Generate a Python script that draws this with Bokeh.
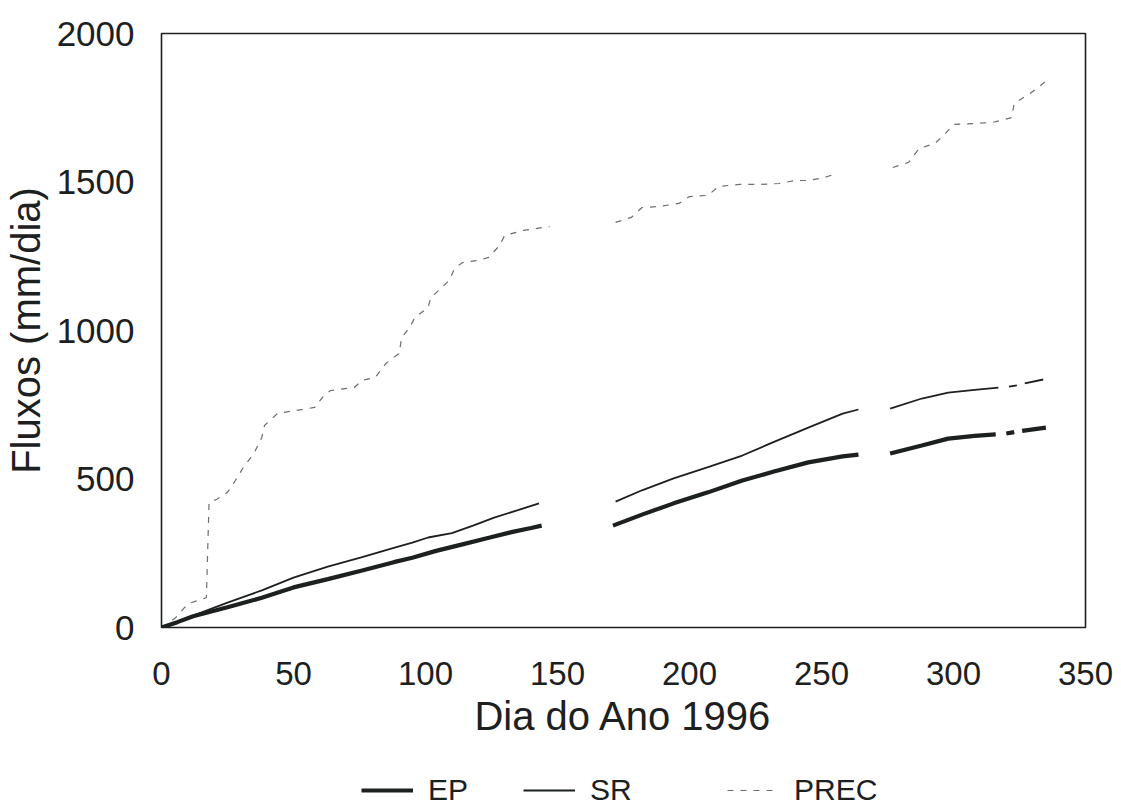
import numpy as np
from bokeh.plotting import figure
from bokeh.layouts import column
from bokeh.models import Legend, LegendItem, FixedTicker
from bokeh.embed import file_html
from bokeh.resources import INLINE

nan = float("nan")

# EP (cumulative evapotranspiration), gaps = missing data
ep_day = [0, 6, 12, 25, 38, 50, 63, 76, 88, 95, 104, 114, 124, 133, 140, 144, nan,
          171, 182, 194, 207, 220, 232, 245, 258, 264, nan,
          276, 288, 298, 308, 316, nan, 320, 323, nan, 326, 335]
ep_val = [0, 18, 38, 68, 100, 135, 163, 192, 220, 235, 258, 280, 302, 322, 335, 343, nan,
          343, 380, 418, 455, 495, 525, 556, 576, 582, nan,
          586, 613, 636, 645, 650, nan, 653, 658, nan, 662, 673]

# SR
sr_day = [0, 6, 12, 25, 38, 50, 63, 76, 88, 95, 101, 110, 118, 126, 135, 143, nan,
          172, 182, 194, 207, 220, 232, 245, 258, 264, nan,
          276, 288, 298, 308, 317, nan, 321, 324, nan, 327, 334]
sr_val = [0, 20, 40, 84, 125, 168, 205, 237, 268, 286, 303, 318, 343, 370, 395, 418, nan,
          424, 462, 502, 540, 579, 625, 673, 720, 734, nan,
          737, 771, 791, 800, 808, nan, 811, 815, nan, 822, 835]

# PREC (cumulative precipitation)
prec_day = [0, 5, 10, 17, 18, 21, 25, 28, 31, 35, 38, 39, 44, 58, 61, 64, 73, 76,
            81, 85, 90, 91, 94, 96, 101, 102, 105, 109, 111, 114, 120, 124, 128, 130,
            137, 147, nan,
            172, 178, 182, 189, 196, 200, 207, 211, 219, 227, 234, 240, 245, 251, 256, nan,
            277, 283, 287, 293, 297, 300, 308, 315, 322, 323, 329, 333, 335]
prec_val = [0, 30, 80, 100, 420, 432, 455, 495, 539, 586, 640, 680, 721, 741, 775, 798, 808, 832,
            842, 889, 923, 977, 1010, 1044, 1078, 1111, 1135, 1169, 1209, 1229, 1236, 1246, 1286, 1320,
            1337, 1350, nan,
            1364, 1381, 1414, 1418, 1428, 1451, 1455, 1485, 1492, 1492, 1495, 1505, 1505, 1515, 1529, nan,
            1549, 1566, 1613, 1630, 1664, 1694, 1697, 1701, 1717, 1765, 1798, 1825, 1840]

x_ticks = [0, 50, 100, 150, 200, 250, 300, 350]
y_ticks = [0, 500, 1000, 1500, 2000]
series_names = ["EP", "SR", "PREC"]

FONT = "Liberation Sans"
INK = "#1c201e"
STYLES = {
    "EP": dict(line_color=INK, line_width=4.2),
    "SR": dict(line_color=INK, line_width=1.8),
    "PREC": dict(line_color="#6a6f6c", line_width=1.2, line_dash="6 7"),
}
SERIES = {"EP": (ep_day, ep_val), "SR": (sr_day, sr_val), "PREC": (prec_day, prec_val)}

p = figure(width=1121, height=745, x_range=(0, 350), y_range=(0, 2000),
           output_backend="svg", toolbar_location=None,
           min_border_left=160, min_border_right=36, min_border_top=33, min_border_bottom=118)
p.background_fill_color = "white"
p.border_fill_color = "white"
p.outline_line_color = INK
p.outline_line_width = 1.6
p.grid.visible = False

for ax in (p.xaxis, p.yaxis):
    ax.axis_line_color = None
    ax.major_tick_line_color = None
    ax.minor_tick_line_color = None
    ax.major_label_text_font = FONT
    ax.major_label_text_color = INK
    ax.axis_label_text_font = FONT
    ax.axis_label_text_color = INK
    ax.axis_label_text_font_style = "normal"

p.xaxis.ticker = FixedTicker(ticks=x_ticks)
p.yaxis.ticker = FixedTicker(ticks=y_ticks)
p.xaxis.major_label_text_font_size = "33px"
p.yaxis.major_label_text_font_size = "35px"
p.xaxis.major_label_standoff = 28
p.yaxis.major_label_standoff = 21
p.xaxis.axis_label = "Dia do Ano 1996"
p.yaxis.axis_label = "Fluxos (mm/dia)"
p.xaxis.axis_label_text_font_size = "40px"
p.yaxis.axis_label_text_font_size = "40px"
p.xaxis.axis_label_standoff = 6
p.yaxis.axis_label_standoff = 6

for n in ["PREC", "SR", "EP"]:
    p.line(*SERIES[n], **STYLES[n])

# legend strip below the chart (its data lies outside the strip's ranges, so only the legend shows)
lf = figure(width=1121, height=62, x_range=(-2, -1), y_range=(-2, -1),
            output_backend="svg", toolbar_location=None,
            min_border_left=0, min_border_right=0, min_border_top=0, min_border_bottom=0)
lf.axis.visible = False
lf.grid.visible = False
lf.outline_line_color = None
lf.background_fill_color = "white"
lf.border_fill_color = "white"
proxy = {n: lf.line(*SERIES[n], **STYLES[n]) for n in series_names}

common = dict(orientation="horizontal", glyph_width=52, glyph_height=28, label_standoff=15,
              spacing=55, padding=0, margin=0, border_line_color=None, background_fill_alpha=0,
              label_text_font=FONT, label_text_font_size="30px", label_text_color=INK)
leg1 = Legend(items=[LegendItem(label=n, renderers=[proxy[n]]) for n in series_names[:2]],
              location=(200, 0), **common)
leg2 = Legend(items=[LegendItem(label=series_names[2], renderers=[proxy[series_names[2]]])],
              location=(566, 0), **common)
lf.add_layout(leg1, "center")
lf.add_layout(leg2, "center")

open("out.html", "w").write(file_html(column(p, lf, spacing=0), INLINE))
